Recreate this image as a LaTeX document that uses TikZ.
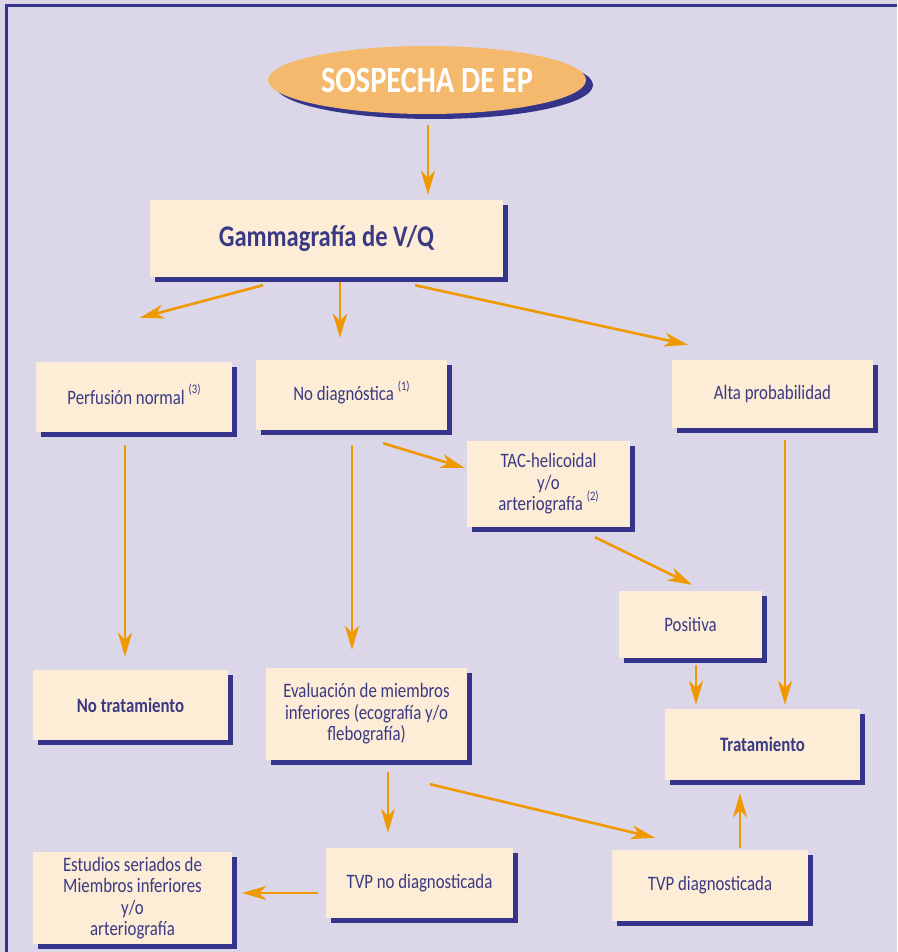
\documentclass[tikz,border=0pt]{standalone}
\usepackage{fontspec}
\setmainfont{Carlito}[FakeStretch=0.82]
\usetikzlibrary{shapes.geometric, arrows.meta, calc, shadows}
\definecolor{bglav}{RGB}{219, 215, 232}
\definecolor{framenavy}{RGB}{52, 52, 138}
\definecolor{boxcream}{RGB}{253, 236, 214}
\definecolor{textnavy}{RGB}{58, 58, 132}
\definecolor{arrorange}{RGB}{240, 152, 0}
\definecolor{ovalorange}{RGB}{245, 185, 110}
\newcommand{\noteref}[1]{\raisebox{0.5em}[0pt][0pt]{\fontsize{13}{13}\selectfont(#1)}}

\begin{document}
\begin{tikzpicture}[x=1pt, y=-1pt,
  navyshadow/.style={drop shadow={shadow xshift=5pt, shadow yshift=-5pt, fill=framenavy, opacity=1}},
  stepbox/.style={rectangle, fill=boxcream, text=textnavy, align=center, inner sep=2pt,
    font=\fontsize{20.5}{21.5}\selectfont, navyshadow},
  flow/.style={draw=arrorange, line width=2.6pt, -{Stealth[length=24pt, width=14pt, inset=7pt]}}]

  % Background and frame
  \useasboundingbox (0, 0) rectangle (897, 952);
  \fill[bglav] (0, 0) rectangle (897, 952);
  \draw[framenavy, line width=3pt] (6.5, 952) -- (6.5, 6) -- (897, 6);

  % Start
  \node[ellipse, fill=ovalorange, minimum width=318pt, minimum height=68pt, text=white,
    font=\fontsize{37}{37}\selectfont\bfseries,
    drop shadow={shadow xshift=7pt, shadow yshift=-5pt, fill=framenavy, opacity=1}] (ep) at (427, 80) {SOSPECHA DE EP};

  \node[stepbox, minimum width=353pt, minimum height=77pt, font=\fontsize{30}{30}\selectfont\bfseries] (gamma) at (326.5, 238.5) {Gammagrafía de V/Q};

  % Results of the scan
  \node[stepbox, minimum width=196pt, minimum height=70pt] (perf) at (134, 397) {Perfusión normal \noteref{3}};
  \node[stepbox, minimum width=191pt, minimum height=70pt] (nodiag) at (351.5, 395) {No diagnóstica \noteref{1}};
  \node[stepbox, minimum width=201pt, minimum height=68pt] (alta) at (772.5, 394) {Alta probabilidad};

  \node[stepbox, minimum width=163pt, minimum height=86pt] (tac) at (548.5, 484) {TAC-helicoidal\\y/o\\arteriografía \noteref{2}};
  \node[stepbox, minimum width=143pt, minimum height=67pt] (pos) at (690.5, 624.5) {Positiva};

  % Lower row
  \node[stepbox, minimum width=195pt, minimum height=70pt, font=\fontsize{20.5}{21.5}\selectfont\bfseries] (notrat) at (130.5, 705) {No tratamiento};
  \node[stepbox, minimum width=201pt, minimum height=92pt] (eval) at (366.5, 714) {Evaluación de miembros\\inferiores (ecografía y/o\\flebografía)};
  \node[stepbox, minimum width=195pt, minimum height=71pt, font=\fontsize{20.5}{21.5}\selectfont\bfseries] (trat) at (762.5, 744.5) {Tratamiento};

  \node[stepbox, minimum width=199pt, minimum height=92pt] (est) at (132.5, 898) {Estudios seriados de\\Miembros inferiores\\y/o\\arteriografía};
  \node[stepbox, minimum width=187pt, minimum height=70pt] (tvpno) at (419.5, 883) {TVP no diagnosticada};
  \node[stepbox, minimum width=196pt, minimum height=71pt] (tvpsi) at (710, 885.5) {TVP diagnosticada};

  % Arrows
  \draw[flow] ($(ep.south)+(1, 11)$) -- ($(gamma.north)+(101.5, -5)$);
  \draw[flow] ($(gamma.south)+(-63.5, 8)$) -- ($(perf.north)+(6, -44)$);
  \draw[flow] ($(gamma.south)+(13.5, 5)$) -- ($(nodiag.north)+(-11.5, -22)$);
  \draw[flow] ($(gamma.south)+(88.5, 8)$) -- ($(alta.north)+(-84.5, -15)$);
  \draw[flow] ($(nodiag.south)+(31.5, 13)$) -- ($(tac.west)+(-2, -16)$);
  \draw[flow] ($(tac.south)+(46.5, 10)$) -- ($(pos.north)+(1.5, -6)$);
  \draw[flow] ($(alta.south)+(12.5, 12)$) -- ($(trat.north)+(22.5, -4)$);
  \draw[flow] ($(pos.south)+(5.5, 7)$) -- ($(trat.north)+(-66.5, -4)$);
  \draw[flow] ($(perf.south)+(-9, 13)$) -- ($(notrat.north)+(-5.5, -13)$);
  \draw[flow] ($(nodiag.south)+(0.5, 15)$) -- ($(eval.north)+(-14.5, -18)$);
  \draw[flow] ($(eval.south)+(21.5, 12)$) -- ($(tvpno.north)+(-31.5, -15)$);
  \draw[flow] ($(eval.south)+(63.5, 24)$) -- ($(tvpsi.north)+(-55, -12)$);
  \draw[flow] ($(tvpsi.north)+(30, -2)$) -- ($(trat.south)+(-22.5, 13)$);
  \draw[flow] ($(tvpno.west)+(-8, 10)$) -- ($(est.east)+(10, -5)$);
\end{tikzpicture}
\end{document}
